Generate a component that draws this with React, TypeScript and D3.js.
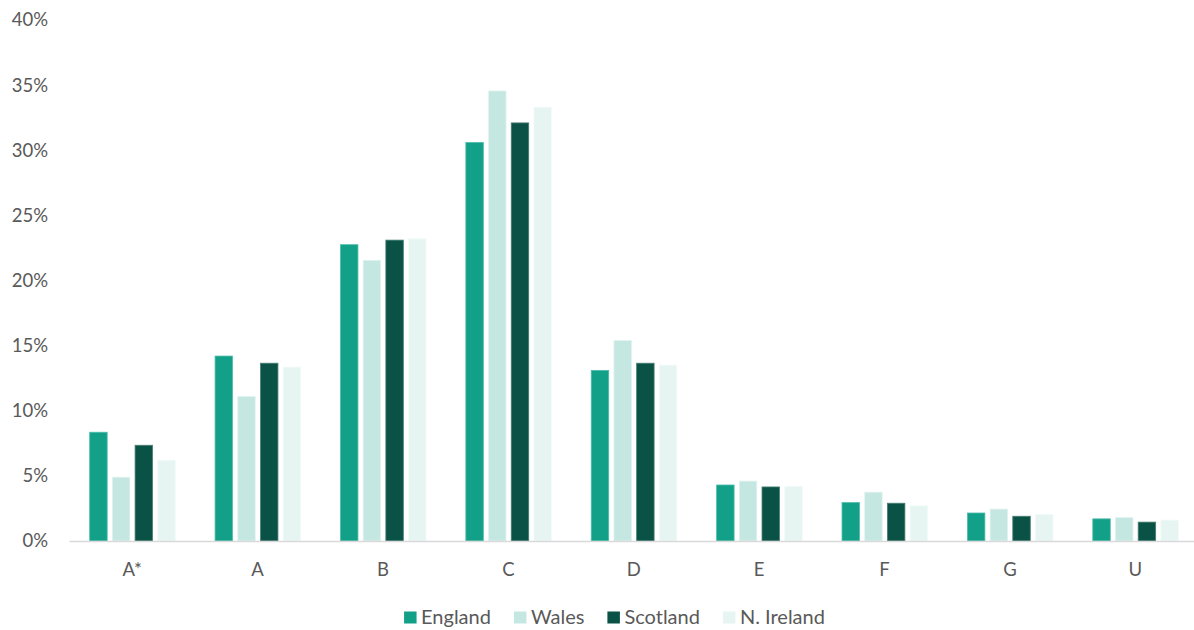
import * as d3 from "d3";
import React, { useRef, useEffect } from "react";

const grades = ["A*", "A", "B", "C", "D", "E", "F", "G", "U"];
const seriesNames = ["England", "Wales", "Scotland", "N. Ireland"];
const england = [8.35, 14.2, 22.75, 30.6, 13.1, 4.3, 2.95, 2.15, 1.7];
const wales = [4.9, 11.1, 21.55, 34.55, 15.4, 4.6, 3.75, 2.45, 1.8];
const scotland = [7.35, 13.65, 23.1, 32.1, 13.65, 4.15, 2.9, 1.9, 1.45];
const nireland = [6.2, 13.35, 23.2, 33.3, 13.5, 4.2, 2.7, 2.05, 1.6];
const yTicks = [0, 5, 10, 15, 20, 25, 30, 35, 40];

const colors = ["#13a089", "#c5e7e1", "#0b5246", "#e6f5f2"];
const strokes = ["#4fbcab", "#e2f3f0", "#4a7f75", "#f1faf8"];

const W = 1194;
const H = 630;

export default function App() {
  const ref = useRef(null);

  useEffect(() => {
    const svg = d3.select(ref.current);
    svg.selectAll("*").remove();

    const font = "Lato, 'Open Sans', sans-serif";
    const values = [england, wales, scotland, nireland];

    const x = d3.scaleBand().domain(grades).range([69.5, 1198]).paddingInner(0).paddingOuter(0);
    const y = d3.scaleLinear().domain([0, 40]).range([541, 20]);

    const groupW = x.bandwidth() * 0.686;
    const step = groupW / 3.79;
    const barW = step * 0.77;

    // y tick labels
    svg
      .append("g")
      .selectAll("text")
      .data(yTicks)
      .enter()
      .append("text")
      .attr("x", 48)
      .attr("y", (d) => y(d))
      .attr("dy", "0.35em")
      .attr("text-anchor", "end")
      .attr("font-family", font)
      .attr("font-size", 18.5)
      .attr("fill", "#595959")
      .text((d) => d + "%");

    // bars
    values.forEach((vals, si) => {
      svg
        .append("g")
        .selectAll("rect")
        .data(vals)
        .enter()
        .append("rect")
        .attr("x", (d, i) => x(grades[i]) + (x.bandwidth() - groupW) / 2 + si * step + 0.5)
        .attr("y", (d) => y(d))
        .attr("width", barW)
        .attr("height", (d) => y(0) - y(d))
        .attr("fill", colors[si])
        .attr("stroke", strokes[si])
        .attr("stroke-width", 0.8);
    });

    // axis line
    svg
      .append("line")
      .attr("x1", 69.5)
      .attr("x2", 1198)
      .attr("y1", y(0) + 0.5)
      .attr("y2", y(0) + 0.5)
      .attr("stroke", "#d9d9d9")
      .attr("stroke-width", 1.5);

    // category labels
    svg
      .append("g")
      .selectAll("text")
      .data(grades)
      .enter()
      .append("text")
      .attr("x", (d) => x(d) + x.bandwidth() / 2)
      .attr("y", 570)
      .attr("dy", "0.35em")
      .attr("text-anchor", "middle")
      .attr("font-family", font)
      .attr("font-size", 18.5)
      .attr("fill", "#595959")
      .text((d) => d);

    // legend
    const legend = svg.append("g");
    let cx = 0;
    seriesNames.forEach((name, i) => {
      const item = legend.append("g").attr("transform", `translate(${cx},0)`);
      item
        .append("rect")
        .attr("x", 0)
        .attr("y", 611.5)
        .attr("width", 12.5)
        .attr("height", 12)
        .attr("fill", colors[i]);
      const t = item
        .append("text")
        .attr("x", 17)
        .attr("y", 617)
        .attr("dy", "0.35em")
        .attr("font-family", font)
        .attr("font-size", 20)
        .attr("fill", "#595959")
        .text(name);
      const tw = t.node().getComputedTextLength();
      cx += 17 + tw + 23;
    });
    const totalW = cx - 23;
    legend.attr("transform", `translate(${614.5 - totalW / 2},0)`);
  }, []);

  return (
    <div style={{ position: "fixed", left: 0, top: 0, width: W, height: H, overflow: "hidden" }}>
      <svg ref={ref} width={W} height={H} style={{ display: "block", background: "#fff" }}></svg>
    </div>
  );
}
